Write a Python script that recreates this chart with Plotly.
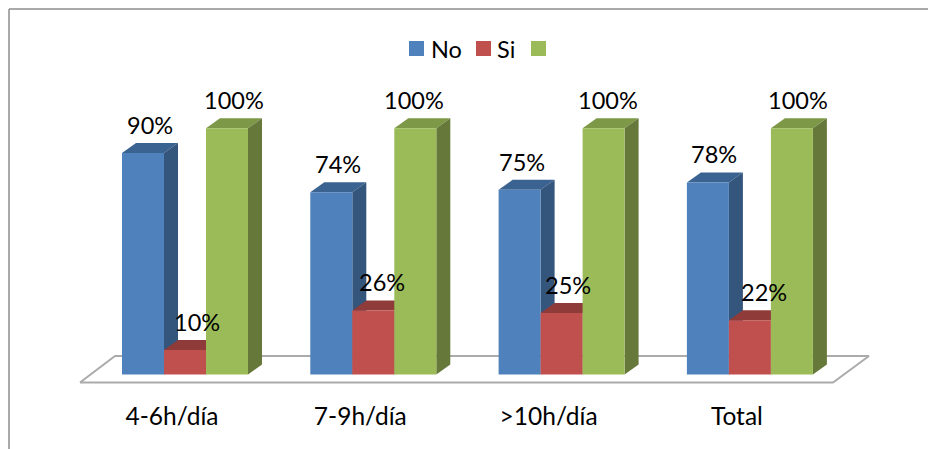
import plotly.graph_objects as go

# Survey results by daily working hours
categories = ["4-6h/día", "7-9h/día", ">10h/día", "Total"]
no_values = [90, 74, 75, 78]
si_values = [10, 26, 25, 22]
total_values = [100, 100, 100, 100]

W, H = 928, 449
GROUP_STEP = 188.3      # pixels between groups
FIRST_CENTER = 185.0    # pixel centre of the first group
BASE_PX = 374.5         # pixel row of the 0% level
PX_PER_UNIT = 2.462     # pixels per percentage point
BAR_PX = 42.0
DEPTH_X, DEPTH_Y = 14.0, 10.0

def ux(px):
    return (px - FIRST_CENTER) / GROUP_STEP

def uy(py):
    return (BASE_PX - py) / PX_PER_UNIT

bar_w = BAR_PX / GROUP_STEP
dx = DEPTH_X / GROUP_STEP
dy = DEPTH_Y / PX_PER_UNIT

FONT = "Lato, Carlito, Calibri, sans-serif"
TEXT = "#000000"
LABEL_SIZE = 23.5
TICK_SIZE = 24.5

series = [
    dict(name="No", values=no_values, pos=-1, front="#4F81BD", side="#34557C", top="#3B6392"),
    dict(name="Si", values=si_values, pos=0, front="#C0504D", side="#7E3533", top="#8F3B39"),
    dict(name=" ", values=total_values, pos=1, front="#9BBB59", side="#67793A", top="#7D9847"),
]

fig = go.Figure()

# Floor of the 3D plot
floor_x = [ux(80), ux(115), ux(869), ux(833), ux(80)]
floor_y = [uy(382.5), uy(356), uy(356), uy(382.5), uy(382.5)]
fig.add_trace(go.Scatter(x=floor_x, y=floor_y, mode="lines", fill="toself",
                         fillcolor="#FFFFFF", line=dict(color="#ABABAB", width=2),
                         hoverinfo="skip", showlegend=False))

# Top and side faces, derived from each value
for s in series:
    for i, v in enumerate(s["values"]):
        left = i + s["pos"] * bar_w - bar_w / 2
        right = left + bar_w
        fig.add_trace(go.Scatter(
            x=[left, right, right + dx, left + dx, left],
            y=[v, v, v + dy, v + dy, v],
            mode="lines", fill="toself", fillcolor=s["top"], line=dict(width=0),
            hoverinfo="skip", showlegend=False))
        fig.add_trace(go.Scatter(
            x=[right, right + dx, right + dx, right, right],
            y=[0, dy, v + dy, v, 0],
            mode="lines", fill="toself", fillcolor=s["side"], line=dict(width=0),
            hoverinfo="skip", showlegend=False))

# Front faces sit on an overlaid axis pair so they cover the depth faces
for s in series:
    fig.add_trace(go.Bar(
        x=[i + s["pos"] * bar_w for i in range(len(categories))],
        y=s["values"], width=bar_w, name=s["name"],
        marker=dict(color=s["front"], line=dict(width=0)),
        xaxis="x2", yaxis="y2", showlegend=False))

x_range = [ux(0), ux(W)]
y_range = [uy(H), uy(0)]
axis_pos = (H - BASE_PX) / H
fig.update_layout(
    width=W, height=H, margin=dict(l=0, r=0, t=0, b=0),
    paper_bgcolor="#FFFFFF", plot_bgcolor="rgba(0,0,0,0)",
    barmode="overlay", showlegend=False,
    font=dict(family=FONT, size=LABEL_SIZE, color=TEXT),
    xaxis=dict(range=x_range, domain=[0, 1], anchor="free", position=axis_pos,
               tickmode="array", tickvals=[i - 0.069 for i in range(len(categories))],
               ticktext=categories, ticks="outside", ticklen=20,
               tickcolor="rgba(0,0,0,0)", showgrid=False, zeroline=False, showline=False,
               tickfont=dict(family=FONT, size=TICK_SIZE, color=TEXT)),
    yaxis=dict(range=y_range, domain=[0, 1], visible=False),
    xaxis2=dict(range=x_range, overlaying="x", visible=False),
    yaxis2=dict(range=y_range, overlaying="y", visible=False, anchor="x2"),
)

# Outer frame: top and left edges only
fig.add_shape(type="line", xref="paper", yref="paper", x0=9 / W, x1=9 / W, y0=0, y1=1 - 9 / H,
              line=dict(color="#8C8C8C", width=1.5))
fig.add_shape(type="line", xref="paper", yref="paper", x0=9 / W, x1=1, y0=1 - 9 / H, y1=1 - 9 / H,
              line=dict(color="#8C8C8C", width=1.5))

# Value labels above each column
label_shift = [[7, 7, 2, 6], [12, 9, 6, 14], [7, -1, 4, 6]]
for s, shifts in zip(series, label_shift):
    for i, v in enumerate(s["values"]):
        fig.add_annotation(x=i + s["pos"] * bar_w, y=v, text=f"{v}%", showarrow=False,
                           xref="x2", yref="y2", xshift=shifts[i], yshift=28,
                           font=dict(family=FONT, size=LABEL_SIZE, color=TEXT))

# Legend row
swatches = [(409, "No", 431), (476, "Si", 497), (531, None, None)]
for (px, label, text_px), s in zip(swatches, series):
    fig.add_shape(type="rect", xref="paper", yref="paper", x0=px / W, x1=(px + 15) / W,
                  y0=1 - 56 / H, y1=1 - 41 / H, fillcolor=s["front"], line=dict(width=0))
    if label:
        fig.add_annotation(x=text_px / W, y=1 - 49 / H, xref="paper", yref="paper", text=label,
                           xanchor="left", yanchor="middle", showarrow=False, xshift=-2,
                           font=dict(family=FONT, size=LABEL_SIZE, color=TEXT))

fig.write_html("out.html", config={"displayModeBar": False})
